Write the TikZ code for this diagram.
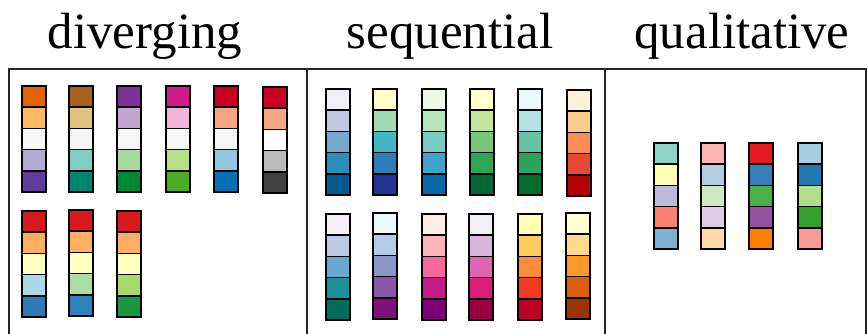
\documentclass[tikz,border=0pt]{standalone}
\usepackage{fontspec}
\setmainfont{Liberation Serif}

% one colour scheme: name, left, top, colours top to bottom
\newcommand{\scheme}[4]{%
  \foreach \h [count=\i] in {#4} {
    \definecolor{cellfill}{HTML}{\h}
    \node[cell=cellfill] (#1-\i) at (#2+12,#3+21.2*\i-10.6) {};
  }}

\begin{document}
\begin{tikzpicture}[x=0.02cm,y=-0.02cm,
  cell/.style={draw,line width=0.03cm,fill=#1,minimum width=0.48cm,
               minimum height=0.424cm,inner sep=0pt,outer sep=0pt},
  title/.style={anchor=base,font=\fontsize{29}{31}\selectfont},
  frame/.style={line width=0.04cm,black!85}]
  \useasboundingbox (0,0) rectangle (868,334);
  \node[title] (div) at (145,49) {diverging};
  \node[title] (seq) at (450,49) {sequential};
  \node[title] (qual) at (742,49) {qualitative};
  \draw[frame] (9,334) -- (9,69) -- (866,69) -- (866,334);
  \draw[frame] (307,69) -- (307,334);
  \draw[frame] (605,69) -- (605,334);
  % diverging
  \scheme{PuOr}{22}{86}{E66101,FDB863,F7F7F7,B2ABD2,5E3C99}
  \scheme{BrBG}{69}{86}{A6611A,DFC27D,F5F5F5,80CDC1,018571}
  \scheme{PRGn}{117}{86}{7B3294,C2A5CF,F7F7F7,A6DBA0,008837}
  \scheme{PiYG}{166}{86}{D01C8B,F1B6DA,F7F7F7,B8E186,4DAC26}
  \scheme{RdBu}{214}{86}{CA0020,F4A582,F7F7F7,92C5DE,0571B0}
  \scheme{RdGy}{263}{87}{CA0020,F4A582,FFFFFF,BABABA,404040}
  \scheme{RdYlBu}{22}{211}{D7191C,FDAE61,FFFFBF,ABD9E9,2C7BB6}
  \scheme{Spectral}{69}{210}{D7191C,FDAE61,FFFFBF,ABDDA4,2B83BA}
  \scheme{RdYlGn}{117}{211}{D7191C,FDAE61,FFFFBF,A6D96A,1A9641}
  % sequential
  \scheme{PuBu}{326}{89}{F1EEF6,BDC9E1,74A9CF,2B8CBE,045A8D}
  \scheme{YlGnBu}{373}{89}{FFFFCC,A1DAB4,41B6C4,2C7FB8,253494}
  \scheme{GnBu}{422}{89}{F0F9E8,BAE4BC,7BCCC4,43A2CA,0868AC}
  \scheme{YlGn}{470}{89}{FFFFCC,C2E699,78C679,31A354,006837}
  \scheme{BuGn}{518}{89}{EDF8FB,B2E2E2,66C2A4,2CA25F,006D2C}
  \scheme{OrRd}{567}{90}{FEF0D9,FDCC8A,FC8D59,E34A33,B30000}
  \scheme{PuBuGn}{326}{214}{F6EFF7,BDC9E1,67A9CF,1C9099,016C59}
  \scheme{BuPu}{373}{213}{EDF8FB,B3CDE3,8C96C6,8856A7,810F7C}
  \scheme{RdPu}{422}{214}{FEEBE2,FBB4B9,F768A1,C51B8A,7A0177}
  \scheme{PuRd}{469}{214}{F1EEF6,D7B5D8,DF65B0,DD1C77,980043}
  \scheme{YlOrRd}{518}{214}{FFFFB2,FECC5C,FD8D3C,F03B20,BD0026}
  \scheme{YlOrBr}{566}{213}{FFFFD4,FED98E,FE9929,D95F0E,993404}
  % qualitative
  \scheme{Set3}{654}{143}{8DD3C7,FFFFB3,BEBADA,FB8072,80B1D3}
  \scheme{Pastel1}{701}{143}{FBB4AE,B3CDE3,CCEBC5,DECBE4,FED9A6}
  \scheme{Set1}{749}{143}{E41A1C,377EB8,4DAF4A,984EA3,FF7F00}
  \scheme{Paired}{798}{143}{A6CEE3,1F78B4,B2DF8A,33A02C,FB9A99}
\end{tikzpicture}
\end{document}
